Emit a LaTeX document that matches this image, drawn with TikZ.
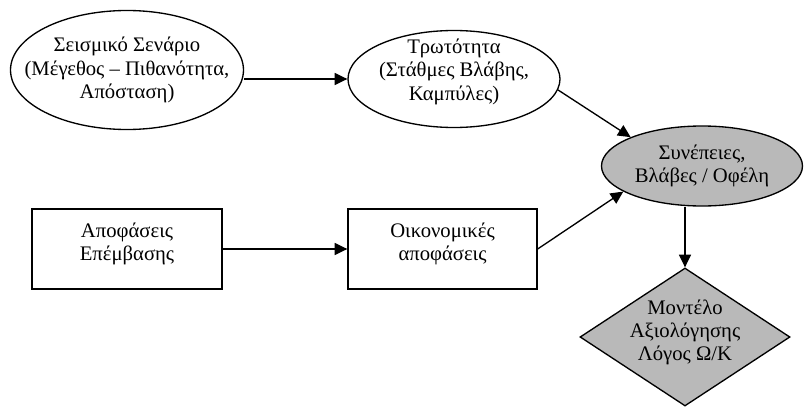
\documentclass[tikz,border=0pt]{standalone}
\usepackage{fontspec}
\setmainfont{Liberation Serif}
\usetikzlibrary{shapes.geometric,arrows.meta}
\definecolor{shadegray}{HTML}{B9B9B9}
\begin{document}
\begin{tikzpicture}[x=0.75pt,y=-0.75pt,line width=1pt,
        font=\fontsize{15.5}{17.5}\selectfont,
        oval/.style={ellipse,draw,align=center,inner xsep=-20pt,inner ysep=-8pt},
        box/.style={rectangle,draw,align=center,text depth=11pt,minimum width=142.5pt,minimum height=60pt},
        arr/.style={-{Triangle[length=9.5pt,width=9pt]}}]
    \useasboundingbox (0,0) rectangle (804,407);

    % top row
    \node[oval,minimum width=174.75pt,minimum height=89.25pt] (scen) at (127,70)
        {Σεισμικό Σενάριο\\(Μέγεθος – Πιθανότητα,\\Απόσταση)};
    \node[oval,text depth=14pt,minimum width=159pt,minimum height=72.75pt] (vuln) at (454,79)
        {Τρωτότητα\\(Στάθμες Βλάβης,\\Καμπύλες)};

    % bottom row
    \node[box] (interv) at (127,249) {Αποφάσεις\\Επέμβασης};
    \node[box,minimum width=141.75pt] (econ) at (442.5,249) {Οικονομικές\\αποφάσεις};

    % results
    \node[oval,fill=shadegray,minimum width=150.75pt,minimum height=60pt] (cons) at (702,166)
        {Συνέπειες,\\Βλάβες / Οφέλη};
    \node[diamond,draw,fill=shadegray,align=center,aspect=1.5,inner sep=-4pt,text depth=10pt,
          minimum width=157.5pt,minimum height=103.5pt] (model) at (685,337)
        {Μοντέλο\\Αξιολόγησης\\Λόγος Ω/Κ};

    \begin{scope}[arr]
        \draw (scen.east |- vuln.west) -- (vuln.west);
        \draw (interv) -- (econ);
        \draw (vuln.-6) -- (cons.158);
        \draw (econ.east) -- (cons.198);
        \draw (cons.south -| model.north) -- (model.north);
    \end{scope}
\end{tikzpicture}
\end{document}
